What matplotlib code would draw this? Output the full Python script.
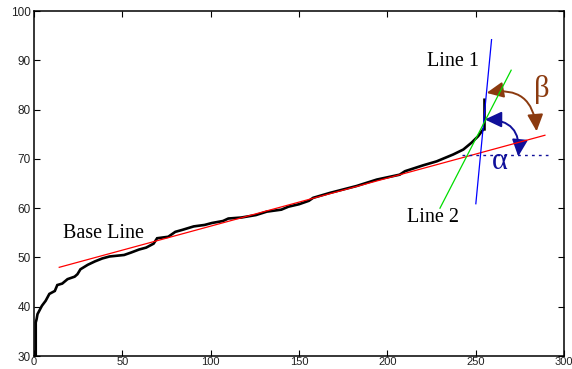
import matplotlib
matplotlib.use("Agg")
import matplotlib.pyplot as plt
from matplotlib.patches import FancyArrowPatch

# ---- data ----
curve_x = [1, 1, 1.5, 2, 4.5, 6.6, 8.7, 11.8, 13.2, 16, 19, 23, 24.6, 26.3, 30.4,
           34.5, 38.7, 42.8, 51, 55, 59.4, 63.5, 67.7, 69.7, 76, 80, 84, 90.4,
           96.6, 100.8, 107, 110, 117.3, 125.6, 131.8, 140, 144, 150, 155.6, 158,
           167.5, 182.6, 194, 207, 210, 220.3, 227.9, 237.3, 243, 247.7, 251.4,
           254.3, 255, 255]
curve_y = [30, 36.8, 37.5, 38.5, 40.2, 41.2, 42.6, 43.2, 44.4, 44.7, 45.6, 46.1,
           46.6, 47.6, 48.5, 49.2, 49.8, 50.2, 50.5, 51, 51.6, 52, 52.8, 53.9,
           54.2, 55.2, 55.6, 56.3, 56.6, 57, 57.4, 57.9, 58.1, 58.6, 59.3, 59.7,
           60.3, 60.8, 61.5, 62.1, 63.1, 64.5, 65.8, 66.8, 67.5, 68.7, 69.5, 70.9,
           71.9, 73.3, 74.6, 76, 76, 82]

base_x = [14.3, 289.2]
base_y = [48.0, 74.8]
line1_x = [250.1, 259.0]
line1_y = [60.9, 94.2]
line2_x = [229.8, 270.1]
line2_y = [60.0, 88.0]
horiz_x = [242, 291]
horiz_y = [70.7, 70.7]

alpha_arc = [(255.2, 78.0), (274.1, 70.5)]
beta_arc = [(256.2, 83.4), (284.5, 75.6)]

x_ticks = [0, 50, 100, 150, 200, 250, 300]
y_ticks = [30, 40, 50, 60, 70, 80, 90, 100]

navy = "#10109a"
brown = "#8b3a0f"

fig = plt.figure(figsize=(5.72, 3.69), dpi=100)
ax = fig.add_axes([0.0594, 0.0352, 0.9266, 0.9348])
ax.set_xlim(0, 300)
ax.set_ylim(30, 100)

ax.plot(curve_x, curve_y, color="black", lw=1.9, solid_joinstyle="miter")
ax.plot(base_x, base_y, color="red", lw=0.9)
ax.plot(line1_x, line1_y, color="blue", lw=0.9)
ax.plot(line2_x, line2_y, color="#00dd00", lw=0.9)
ax.plot(horiz_x, horiz_y, color=navy, lw=1.0, linestyle=(0, (2, 3)))

for (p0, p1), col in ((alpha_arc, navy), (beta_arc, brown)):
    arr = FancyArrowPatch(p0, p1, connectionstyle="arc3,rad=-0.55",
                          arrowstyle="<|-|>,head_length=0.85,head_width=0.4",
                          mutation_scale=12, color=col, lw=1.4,
                          shrinkA=0, shrinkB=0, transform=ax.transData)
    ax.add_patch(arr)

serif = "Liberation Serif"
fig.text(103.3 / 572, 1 - 233.3 / 369, "Base Line", family=serif, fontsize=14.5,
         ha="center", va="center")
fig.text(453.3 / 572, 1 - 61.7 / 369, "Line 1", family=serif, fontsize=14.5,
         ha="center", va="center")
fig.text(433 / 572, 1 - 218 / 369, "Line 2", family=serif, fontsize=14.5,
         ha="center", va="center")
fig.text(541.7 / 572, 1 - 90 / 369, "β", family=serif, fontsize=22,
         ha="center", va="center", color=brown)
fig.text(500 / 572, 1 - 161.7 / 369, "α", family=serif, fontsize=22,
         ha="center", va="center", color=navy)

ax.set_xticks(x_ticks)
ax.set_yticks(y_ticks)
ax.tick_params(direction="in", length=4, width=0.8, top=True, right=True,
               labelsize=8.5, labelcolor="#222222", pad=2.5)
ax.tick_params(axis="x", labelsize=8, pad=0.5)
for lab in ax.get_xticklabels() + ax.get_yticklabels():
    lab.set_family("Liberation Sans")
for s in ax.spines.values():
    s.set_linewidth(1.1)

fig.savefig("out.png", dpi=100)
